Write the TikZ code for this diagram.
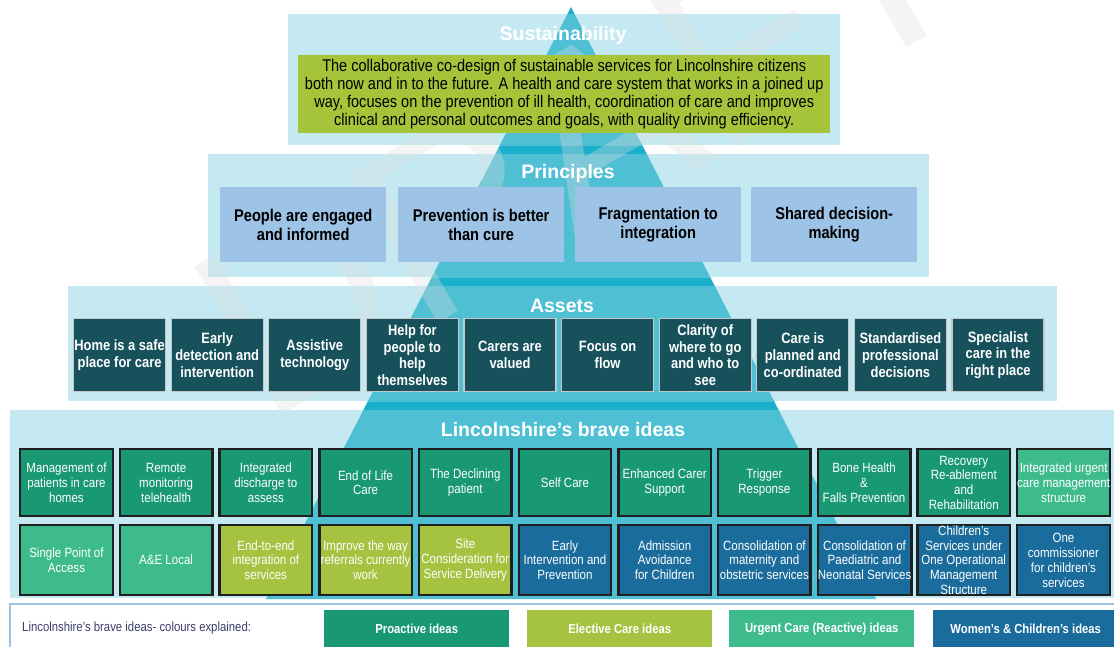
\documentclass[tikz,border=0pt]{standalone}
\usepackage{fontspec}
\setmainfont{Liberation Sans}
\newfontfamily\nar{Liberation Sans}[FakeStretch=0.86]
\definecolor{bandblue}{HTML}{C5E9F2}
\definecolor{tealL}{HTML}{4FBFD4}
\definecolor{tealD}{HTML}{1AAFCB}
\definecolor{susgreen}{HTML}{A6C43A}
\definecolor{princblue}{HTML}{9DC3E6}
\definecolor{assetteal}{HTML}{17525C}
\definecolor{proactive}{HTML}{189873}
\definecolor{urgent}{HTML}{3EBB8D}
\definecolor{elective}{HTML}{A5C241}
\definecolor{womens}{HTML}{196C9B}
\definecolor{legendtext}{HTML}{3C3C6C}
\definecolor{legendline}{HTML}{9CC2E5}
\definecolor{wmark}{HTML}{E0E0E0}
\begin{document}
\begin{tikzpicture}[x=1pt,y=-1pt,
  title/.style={text=white,font=\bfseries\fontsize{19.5}{22}\selectfont,inner sep=0pt},
  princ/.style={anchor=north west,fill=princblue,minimum width=166pt,minimum height=75pt,inner sep=0pt,align=center,text=black,font=\nar\bfseries\fontsize{17}{19.5}\selectfont},
  asset/.style={anchor=north west,fill=assetteal,draw=black!22,line width=1.2pt,minimum width=92pt,minimum height=73pt,inner sep=0pt,align=center,text=white,font=\nar\bfseries\fontsize{15}{16.8}\selectfont},
  idea/.style={anchor=north west,draw=black!88,line width=2.4pt,minimum width=92.5pt,inner sep=0pt,align=center,text=white,font=\nar\fontsize{13.4}{14.8}\selectfont},
  legbox/.style={anchor=north west,minimum width=185pt,minimum height=38pt,inner sep=0pt,text=white,font=\nar\bfseries\fontsize{13.1}{15}\selectfont}
]
\useasboundingbox (0,0) rectangle (1114,646);
\clip (0,0) rectangle (1114,646);
\fill[white] (0,0) rectangle (1114,646);
% pyramid and bands
\fill[tealD] (571,7) -- (266,599) -- (876,599) -- cycle;
\foreach \xa/\ya/\xb/\yb in {288/14/840/145, 208/154/929/277, 68/286/1057/401, 10/410/1130/598}{
  \fill[bandblue] (\xa,\ya) rectangle (\xb,\yb);
  \begin{scope}
    \clip (\xa,\ya) rectangle (\xb,\yb);
    \fill[tealL] (571,7) -- (266,599) -- (876,599) -- cycle;
  \end{scope}
}
% watermark
\node[rotate=30.5,text=wmark,opacity=0.33,font=\fontsize{250}{250}\selectfont,inner sep=0pt] (wm) at (580,140) {DRAFT};
% titles
\node[title] (tsus) at (563,35) {Sustainability};
\node[title] (tprin) at (568,173) {Principles};
\node[title] (tass) at (562,306) {Assets};
\node[title] (tbrave) at (563,430) {Lincolnshire’s brave ideas};
% sustainability
\node[anchor=north west,fill=susgreen,minimum width=532pt,minimum height=78pt,inner sep=0pt,align=center,text=black,font=\nar\fontsize{16.9}{18}\selectfont] (sus) at (298,55)
 {The collaborative co-design of sustainable services for Lincolnshire citizens\\both now and in to the future. A health and care system that works in a joined up\\way, focuses on the prevention of ill health, coordination of care and improves\\clinical and personal outcomes and goals, with quality driving efficiency.};
% principles
\node[princ] (p1) at (220,187) {People are engaged\\and informed};
\node[princ] (p2) at (398,187) {Prevention is better\\than cure};
\node[princ] (p3) at (575,187) {Fragmentation to\\integration};
\node[princ] (p4) at (751,187) {Shared decision-\\making};
% assets
\foreach \t [count=\i from 0] in {
  {Home is a safe\\place for care},
  {Early\\detection and\\intervention},
  {Assistive\\technology},
  {Help for\\people to\\help\\themselves},
  {Carers are\\valued},
  {Focus on\\flow},
  {Clarity of\\where to go\\and who to\\see},
  {Care is\\planned and\\co-ordinated},
  {Standardised\\professional\\decisions},
  {Specialist\\care in the\\right place}}{
  \node[asset] (a\i) at ({73+97.6*\i},318) {\t};
}
% brave ideas row 1
\foreach \t/\c [count=\i from 0] in {
  {Management of\\patients in care\\homes}/proactive,
  {Remote\\monitoring\\telehealth}/proactive,
  {Integrated\\discharge to\\assess}/proactive,
  {End of Life\\Care}/proactive,
  {The Declining\\patient}/proactive,
  {Self Care}/proactive,
  {Enhanced Carer\\Support}/proactive,
  {Trigger\\Response}/proactive,
  {Bone Health\\\&\\Falls Prevention}/proactive,
  {Recovery\\Re-ablement\\and\\Rehabilitation}/proactive,
  {Integrated urgent\\care management\\structure}/urgent}{
  \node[idea,fill=\c,minimum height=67pt] (r1i\i) at ({19+99.7*\i},448) {\t};
}
% brave ideas row 2
\foreach \t/\c [count=\i from 0] in {
  {Single Point of\\Access}/urgent,
  {A\&E Local}/urgent,
  {End-to-end\\integration of\\services}/elective,
  {Improve the way\\referrals currently\\work}/elective,
  {Site\\Consideration for\\Service Delivery}/elective,
  {Early\\Intervention and\\Prevention}/womens,
  {Admission\\Avoidance\\for Children}/womens,
  {Consolidation of\\maternity and\\obstetric services}/womens,
  {Consolidation of\\Paediatric and\\Neonatal Services}/womens,
  {Children’s\\Services under\\One Operational\\Management\\Structure}/womens,
  {One\\commissioner\\for children’s\\services}/womens}{
  \node[idea,fill=\c,minimum height=70pt] (r2i\i) at ({19+99.7*\i},524) {\t};
}
% legend
\draw[legendline,line width=2pt,fill=white] (10,604) rectangle (1130,670);
\node[anchor=west,inner sep=0pt,text=legendtext,font=\nar\fontsize{13.2}{15}\selectfont] (lgl) at (22,628) {Lincolnshire’s brave ideas- colours explained:};
\node[legbox,fill=proactive] (lg1) at (324,610) {Proactive ideas};
\node[legbox,fill=elective] (lg2) at (527,610) {Elective Care ideas};
\node[legbox,fill=urgent] (lg3) at (729,610) {Urgent Care (Reactive) ideas};
\node[legbox,fill=womens] (lg4) at (933,610) {Women’s \& Children’s ideas};
\end{tikzpicture}
\end{document}
